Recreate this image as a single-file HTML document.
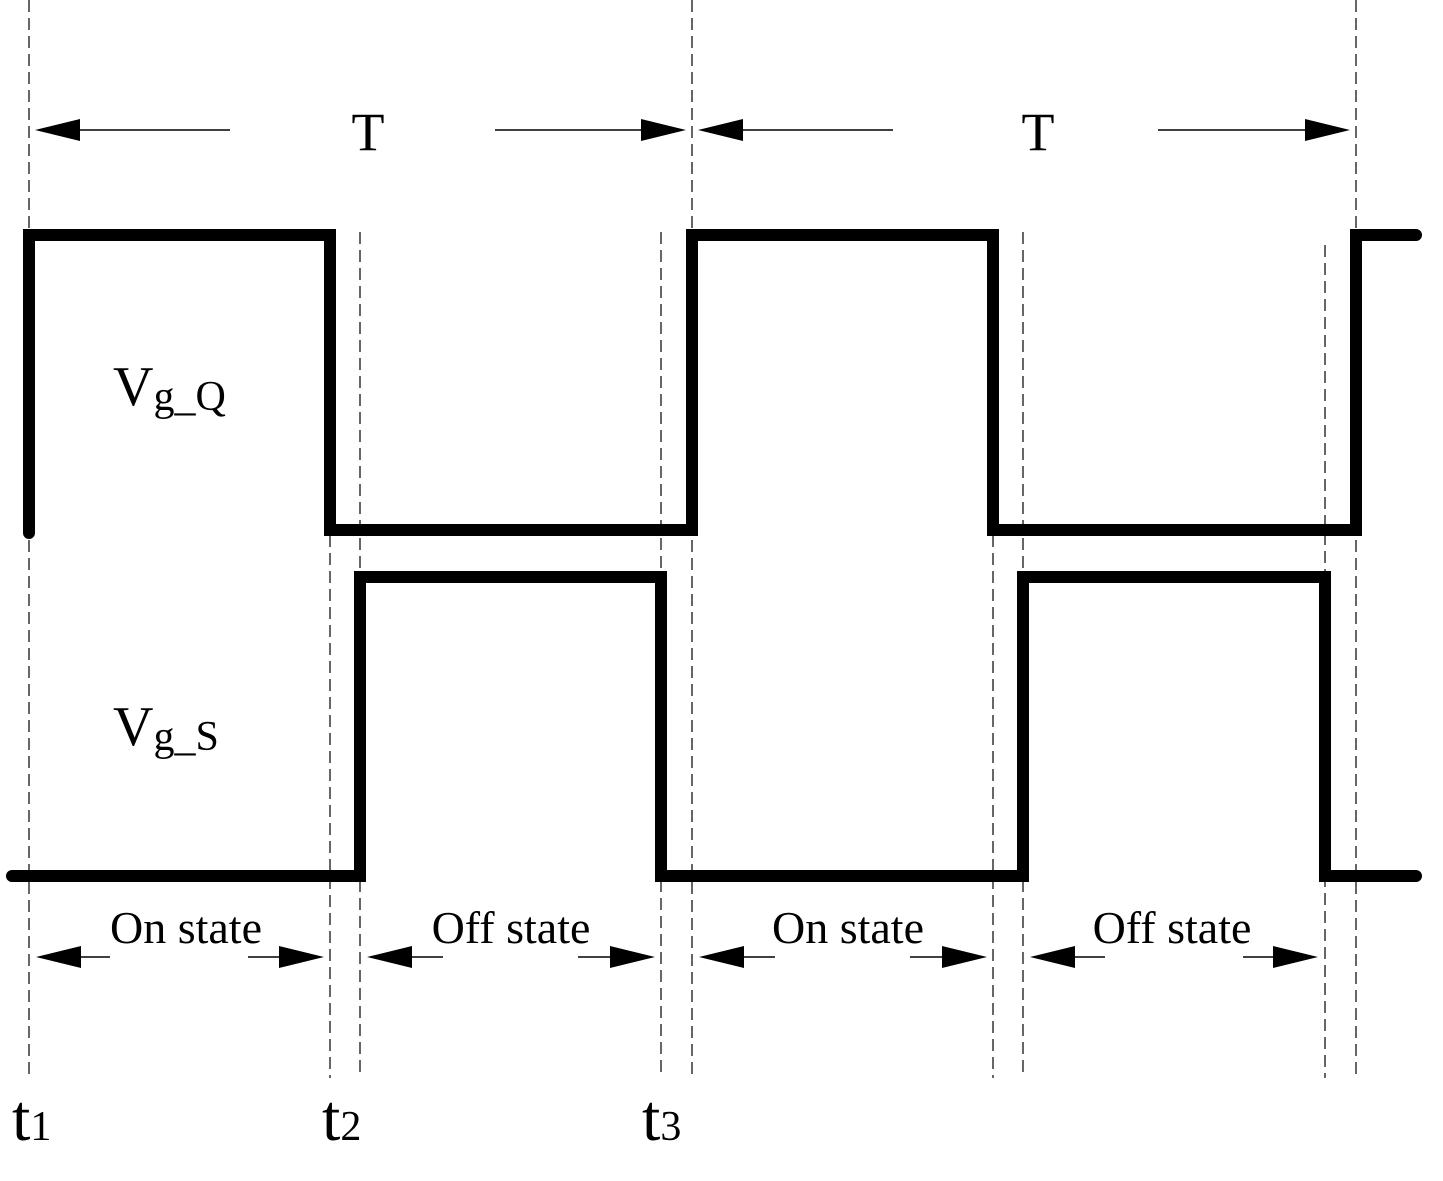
<!DOCTYPE html>
<html><head><meta charset="utf-8"><style>
html,body{margin:0;padding:0;background:#fff;}
svg{display:block;}
text{font-family:"Liberation Serif",serif;fill:#000;}
</style></head><body>
<svg width="1443" height="1181" viewBox="0 0 1443 1181" xmlns="http://www.w3.org/2000/svg">
<g stroke="#000" stroke-width="1.2" stroke-dasharray="12,6" fill="none">
<line x1="29" y1="0" x2="29" y2="1078"/>
<line x1="330" y1="535" x2="330" y2="1078"/>
<line x1="360" y1="232" x2="360" y2="1078"/>
<line x1="661" y1="232" x2="661" y2="1078"/>
<line x1="692" y1="0" x2="692" y2="1078"/>
<line x1="993" y1="535" x2="993" y2="1078"/>
<line x1="1023" y1="232" x2="1023" y2="1078"/>
<line x1="1325" y1="245" x2="1325" y2="1078"/>
<line x1="1356" y1="0" x2="1356" y2="1078"/>
</g>
<g stroke="#000" stroke-width="12" fill="none" stroke-linecap="round" stroke-linejoin="miter">
<polyline points="29,533 29,235 330,235 330,530 692,530 692,235 993,235 993,530 1356,530 1356,235 1416,235"/>
<polyline points="12,876 360,876 360,577 661,577 661,876 1023,876 1023,577 1325,577 1325,876 1416,876"/>
</g>
<g stroke="#000" stroke-width="1.5">
<line x1="60" y1="130" x2="230" y2="130"/>
<line x1="495" y1="130" x2="660" y2="130"/>
<line x1="725" y1="130" x2="893" y2="130"/>
<line x1="1158" y1="130" x2="1325" y2="130"/>
<line x1="75" y1="957" x2="110" y2="957"/>
<line x1="248" y1="957" x2="285" y2="957"/>
<line x1="405" y1="957" x2="443" y2="957"/>
<line x1="578" y1="957" x2="615" y2="957"/>
<line x1="738" y1="957" x2="775" y2="957"/>
<line x1="910" y1="957" x2="948" y2="957"/>
<line x1="1068" y1="957" x2="1105" y2="957"/>
<line x1="1243" y1="957" x2="1280" y2="957"/>
</g>
<g fill="#000">
<polygon points="35,130 80,119 80,141"/>
<polygon points="686,130 641,119 641,141"/>
<polygon points="698,130 743,119 743,141"/>
<polygon points="1350,130 1305,119 1305,141"/>
<polygon points="36,957 81,946 81,968"/>
<polygon points="324,957 279,946 279,968"/>
<polygon points="367,957 412,946 412,968"/>
<polygon points="655,957 610,946 610,968"/>
<polygon points="699,957 744,946 744,968"/>
<polygon points="987,957 942,946 942,968"/>
<polygon points="1030,957 1075,946 1075,968"/>
<polygon points="1318,957 1273,946 1273,968"/>
</g>
<text x="368" y="150" font-size="54" text-anchor="middle">T</text>
<text x="1038" y="150" font-size="54" text-anchor="middle">T</text>
<text x="186" y="943" font-size="46" text-anchor="middle">On state</text>
<text x="511" y="943" font-size="46" text-anchor="middle">Off state</text>
<text x="848" y="943" font-size="46" text-anchor="middle">On state</text>
<text x="1172" y="943" font-size="46" text-anchor="middle">Off state</text>
<text x="113" y="405" font-size="56">V<tspan font-size="42" dy="5">g_Q</tspan></text>
<text x="113" y="745" font-size="56">V<tspan font-size="42" dy="5">g_S</tspan></text>
<text x="12" y="1140" font-size="66">t<tspan font-size="42">1</tspan></text>
<text x="322" y="1140" font-size="66">t<tspan font-size="42">2</tspan></text>
<text x="642" y="1140" font-size="66">t<tspan font-size="42">3</tspan></text>
</svg>
</body></html>
